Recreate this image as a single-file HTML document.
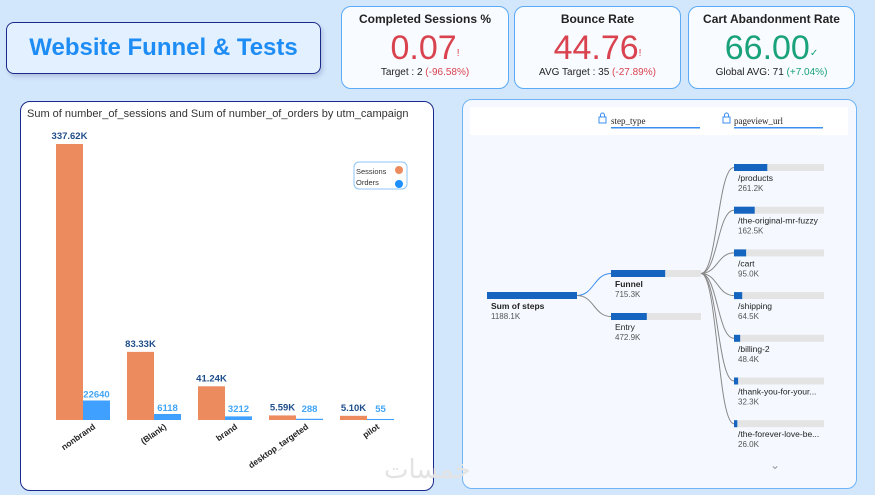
<!DOCTYPE html>
<html><head><meta charset="utf-8">
<style>
*{box-sizing:border-box;margin:0;padding:0}
body{width:875px;height:495px;overflow:hidden;background:#d2e6fc;font-family:"Liberation Sans",sans-serif;position:relative}
.abs{position:absolute}
.card{position:absolute;top:6px;height:83px;background:#f8fbff;border:1.5px solid #5aaaf5;border-radius:10px;text-align:center}
.card .t{font-size:12px;font-weight:bold;color:#222;margin-top:5px}
.card .v{font-size:34px;line-height:36px;margin-top:4px}
.card .v sup{font-size:10px;vertical-align:top;position:relative;top:6px}
.card .s{font-size:10px;color:#222;margin-top:1px}
</style></head><body>
<div class="abs" style="left:6px;top:22px;width:315px;height:52px;background:#e2f0ff;border:1.5px solid #1a2a8a;border-radius:8px;box-shadow:2px 3px 4px rgba(0,0,80,.15);text-align:center;line-height:50px;font-size:24px;font-weight:bold;color:#1e8cf5">Website Funnel &amp; Tests</div>

<div class="card" style="left:341px;width:168px"><div class="t">Completed Sessions %</div><div class="v" style="color:#d9434f">0.07<sup>!</sup></div><div class="s">Target : 2 <span style="color:#d9434f">(-96.58%)</span></div></div>
<div class="card" style="left:514px;width:167px"><div class="t">Bounce Rate</div><div class="v" style="color:#d9434f">44.76<sup>!</sup></div><div class="s">AVG Target : 35 <span style="color:#d9434f">(-27.89%)</span></div></div>
<div class="card" style="left:688px;width:167px"><div class="t">Cart Abandonment Rate</div><div class="v" style="color:#1aa37a">66.00<sup>✓</sup></div><div class="s">Global AVG: 71 <span style="color:#1aa37a">(+7.04%)</span></div></div>

<div class="abs" style="left:20px;top:101px;width:414px;height:390px;background:#fff;border:1.5px solid #1a2a8a;border-radius:10px"></div>
<svg class="abs" style="left:0;top:0" width="875" height="495" id="bars">
<text x="27" y="117" font-size="11" fill="#333">Sum of number_of_sessions and Sum of number_of_orders by utm_campaign</text>
<g>
<rect x="354" y="162" width="53" height="27" rx="5" fill="#fff" stroke="#8cc4f8"/>
<text x="356" y="174" font-size="7.5" fill="#333">Sessions</text><circle cx="399" cy="170" r="4" fill="#eb8b5e"/>
<text x="356" y="185" font-size="7.5" fill="#333">Orders</text><circle cx="399" cy="184" r="4" fill="#1e90ff"/>
</g>
</svg>

<div class="abs" style="left:462px;top:99px;width:395px;height:390px;background:#f5f9ff;border:1.5px solid #6fb4f5;border-radius:10px"></div>
<svg class="abs" style="left:0;top:0" width="875" height="495" id="tree">
<rect x="470" y="107" width="378" height="28" fill="#fff"/>
<g><rect x="599" y="117" width="7" height="6" fill="none" stroke="#3c8ef0"/><path d="M600.5 117v-2a2 2 0 0 1 4 0v2" fill="none" stroke="#3c8ef0"/>
<text x="611" y="124" font-size="9" fill="#222" font-family="Liberation Serif">step_type</text><rect x="611" y="127" width="89" height="1.5" fill="#3c8ef0"/></g>
<g><rect x="723" y="117" width="7" height="6" fill="none" stroke="#3c8ef0"/><path d="M724.5 117v-2a2 2 0 0 1 4 0v2" fill="none" stroke="#3c8ef0"/>
<text x="734" y="124" font-size="9" fill="#222" font-family="Liberation Serif">pageview_url</text><rect x="734" y="127" width="89" height="1.5" fill="#3c8ef0"/></g>
<text x="770" y="469" font-size="12" fill="#999">⌄</text>
</svg>
<div class="abs" style="left:384px;top:455px;font-size:26px;color:#e3e3e3;font-family:'DejaVu Sans',sans-serif">خمسات</div>

<script>
const categories=["nonbrand","(Blank)","brand","desktop_targeted","pilot"];
const sessions=[337620,83330,41240,5590,5100];
const sessionLabels=["337.62K","83.33K","41.24K","5.59K","5.10K"];
const orders=[22640,6118,3212,288,55];
const orderLabels=["22640","6118","3212","288","55"];

const NS="http://www.w3.org/2000/svg";
function mk(parent,tag,attrs,text){const e=document.createElementNS(NS,tag);for(const k in attrs)e.setAttribute(k,attrs[k]);if(text!==undefined)e.textContent=text;parent.appendChild(e);return e;}
const base=420,scale=276/337620;
const y=v=>base-v*scale;
const x0=i=>56+i*71;
const bs=document.getElementById('bars');
categories.forEach((c,i)=>{
  const s=mk(bs,'rect',{x:x0(i),y:y(sessions[i]),width:27,height:base-y(sessions[i]),fill:'#eb8b5e'});
  
  
  const o=mk(bs,'rect',{x:x0(i)+27,y:y(orders[i])-1,width:27,height:base-y(orders[i])+1,fill:'#3fa0ff'});
  
  
  const sl=mk(bs,'text',{x:x0(i)+13.5,y:y(sessions[i])-5,'font-size':9.5,'font-weight':'bold',fill:'#1f4e8c','text-anchor':'middle'},sessionLabels[i]);
  
  
  const ol=mk(bs,'text',{x:x0(i)+40.5,y:Math.min(y(orders[i])-4,base-8),'font-size':9.5,'font-weight':'bold',fill:'#42a5f5','text-anchor':'middle'},orderLabels[i]);
  
  
  const xl=mk(bs,'text',{transform:`translate(${x0(i)+40},${base+8}) rotate(-35)`,'font-size':8.5,'font-weight':'bold',fill:'#222','text-anchor':'end'},c);
  
  
});

// decomposition tree
const stepNames=["Funnel","Entry"];
const stepValues=[715.3,472.9];
const total=1188.1;
const pageNames=["/products","/the-original-mr-fuzzy","/cart","/shipping","/billing-2","/thank-you-for-your...","/the-forever-love-be..."];
const pageValues=[261.2,162.5,95.0,64.5,48.4,32.3,26.0];
const tr=document.getElementById('tree');
const BW=90;
function node(x,yy,frac,name,val,bold,id){
  const g=mk(tr,'g',{});
  
  
  mk(g,'rect',{x:x,y:yy,width:BW,height:7,fill:'#e4e4e4'});
  mk(g,'rect',{x:x,y:yy,width:Math.max(2,BW*frac),height:7,fill:'#1565c0'});
  mk(g,'text',{x:x+4,y:yy+17,'font-size':8.5,fill:'#222','font-weight':bold?'bold':'normal'},name);
  mk(g,'text',{x:x+4,y:yy+27,'font-size':8,fill:'#555'},val);
}
function link(x1,y1,x2,y2,col){const mx=(x1+x2)/2;mk(tr,'path',{d:`M${x1} ${y1}C${mx} ${y1} ${mx} ${y2} ${x2} ${y2}`,fill:'none',stroke:col,'stroke-width':1});}
node(487,292,1,"Sum of steps",total.toFixed(1)+"K",true,'node-sum-of-steps');
const sy=[270,313];
stepValues.forEach((v,i)=>{link(577,295.5,611,sy[i]+3.5,i==0?'#3c8ef0':'#888');node(611,sy[i],v/total,stepNames[i],v.toFixed(1)+"K",i==0,'node-step-'+i);});
const maxP=pageValues[0]/0.37;
pageValues.forEach((v,i)=>{const yy=164+i*42.7;link(701,273.5,734,yy+3.5,'#888');node(734,yy,v/maxP,pageNames[i],v.toFixed(1)+"K",false,'node-page-'+i);});
</script>
</body></html>
